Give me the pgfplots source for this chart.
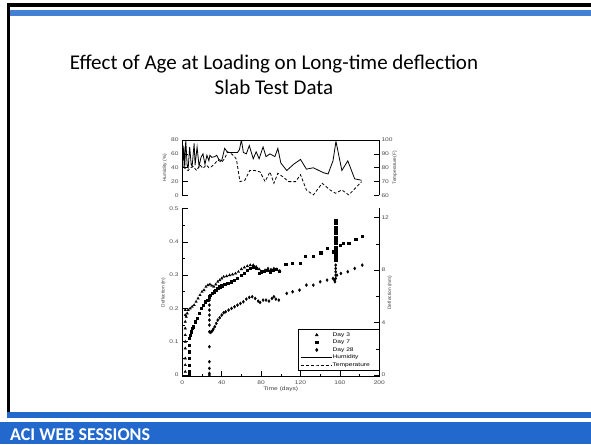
\documentclass[border=0pt]{standalone}
\usepackage{pgfplots}
\pgfplotsset{compat=1.18}
\usepackage{fontspec}
\setmainfont{Liberation Sans}
\newfontfamily\widefont[FakeStretch=1.25]{Liberation Sans}
\newfontfamily\titlefont{Carlito}
\definecolor{aciblue}{RGB}{35,105,205}
\newcommand\axfont{\widefont\fontsize{5.3}{6}\selectfont}
\newcommand\labfont{\fontsize{4.8}{5.5}\selectfont}
\pgfplotsset{
  slabstyle/.style={
    scale only axis, width=197pt,
    xmin=0, xmax=200,
    tick align=inside,
    major tick length=5.5pt, minor tick length=3pt,
    axis line style={line width=0.7pt},
    every tick/.style={black, line width=0.6pt},
    tick label style={font=\axfont, text=black!70, inner sep=3.5pt},
    /pgf/number format/assume math mode=true,
    clip=true,
  },
  leftlab/.style={ylabel style={at={(rel axis cs:0,0.5)}, anchor=center, yshift=#1, font=\labfont, text=black!75}},
  rightlab/.style={ylabel style={at={(rel axis cs:1,0.5)}, anchor=center, yshift=-#1, font=\labfont, text=black!75}},
  legend image code/.code={\draw[mark repeat=2,mark phase=2,#1] plot coordinates {(0pt,0pt) (15.5pt,0pt) (31pt,0pt)};},
}
\begin{document}
\begin{tikzpicture}
\path[use as bounding box] (0pt,0pt) rectangle (591pt,444pt);
\fill[white] (0pt,0pt) rectangle (591pt,444pt);
% slide decoration
\fill[black] (7pt,437pt) rectangle (591pt,441pt);
\fill[black] (7pt,32pt) rectangle (9.5pt,441pt);
\fill[aciblue!85] (9.5pt,428pt) rectangle (591pt,434pt);
\fill[aciblue] (7pt,26pt) rectangle (591pt,32pt);
\fill[aciblue] (0pt,0pt) rectangle (591pt,22pt);
\node[anchor=base west, text=white, font=\titlefont\bfseries\fontsize{18}{18}\selectfont, inner sep=0pt] at (10pt,4pt) {ACI WEB SESSIONS};
\node[align=center, font=\titlefont\fontsize{21}{25}\selectfont] at (274pt,369pt) {Effect of Age at Loading on Long-time deflection\\Slab Test Data};

% ---------- lower panel: deflection (in) ----------
\begin{axis}[slabstyle, leftlab=19pt,
  at={(182.3pt,67.3pt)}, anchor=south west, height=168.2pt,
  ymin=-0.005, ymax=0.5,
  axis x line*=bottom, axis y line*=left,
  xtick={0,40,80,120,160,200}, minor x tick num=1,
  ytick={0,0.1,0.2,0.3,0.4,0.5}, minor y tick num=1,
  yticklabels={0,0.1,0.2,0.3,0.4,0.5},
  xlabel={Time (days)}, ylabel={Deflection (in)},
  xlabel style={at={(rel axis cs:0.5,0)}, anchor=center, yshift=-12.6pt, font=\axfont, text=black!75},
  legend cell align=left,
  legend style={at={(rel axis cs:1,0.0357)}, anchor=south east, font=\axfont,
    draw=black, line width=0.7pt, inner xsep=2.3pt, inner ysep=2.75pt, row sep=2.3pt,
    nodes={inner sep=0pt, text height=4pt, text depth=1.2pt},
    /tikz/every even column/.append style={column sep=5pt}},
]
\addplot[only marks, mark=triangle*, mark size=1.4pt, black] coordinates {
(3,0.01)(3,0.03)(3,0.05)(3,0.08)(3,0.1)(3,0.12)(3,0.14)(3,0.16)(3,0.18)(3,0.195)
(4,0.175)(5,0.185)(6,0.195)(8,0.2)(10,0.205)(12,0.21)(14,0.22)(16,0.23)(18,0.24)(20,0.25)
(22,0.255)(24,0.265)(26,0.27)(28,0.272)(30,0.268)(32,0.265)(34,0.272)(36,0.28)(38,0.285)(40,0.29)
(42,0.295)(45,0.297)(48,0.3)(51,0.302)(54,0.305)(57,0.31)(60,0.318)(63,0.323)(66,0.327)(69,0.33)
(72,0.33)(75,0.325)(78,0.318)(81,0.31)(84,0.315)(87,0.32)(90,0.317)(93,0.32)(96,0.318)(99,0.313)
};
\addlegendentry{\makebox[44pt][l]{Day 3}}
\addplot[only marks, mark=square*, mark size=1.1pt, black] coordinates {
(7,0.0)(7,0.01)(7,0.03)(7,0.05)(7,0.07)(7,0.09)(7,0.11)
(8,0.12)(9,0.13)(10,0.14)(11,0.145)(13,0.16)(15,0.17)(17,0.185)(19,0.2)(21,0.21)(23,0.22)
(25,0.225)(27,0.235)(28,0.24)(30,0.245)(32,0.25)(34,0.255)(36,0.26)(38,0.265)(40,0.268)(43,0.272)
(46,0.275)(50,0.28)(53,0.285)(56,0.29)(60,0.3)(63,0.305)(66,0.315)(69,0.32)(72,0.325)(75,0.32)
(78,0.305)(80,0.31)(83,0.312)(86,0.315)(89,0.31)(92,0.315)(95,0.318)(98,0.312)
(105,0.333)(111.7,0.335)(119.5,0.335)(125,0.357)(133,0.357)(140.5,0.367)(147.5,0.38)(153,0.37)
(155.7,0.345)(155.7,0.355)(155.7,0.365)(155.7,0.375)(155.7,0.385)(155.7,0.395)(155.7,0.405)
(155.7,0.415)(155.7,0.425)(155.7,0.435)(155.7,0.445)(155.7,0.455)(155.7,0.465)
(160.7,0.39)(163.5,0.395)(169,0.397)(176,0.407)(182.7,0.417)
};
\addlegendentry{Day 7}
\addplot[only marks, mark=diamond*, mark size=1.5pt, black] coordinates {
(27.5,0)(27.5,0.005)(27.5,0.02)(27.5,0.04)(27.5,0.085)(27.5,0.13)(27.5,0.15)(27.5,0.165)
(27.5,0.18)(27.5,0.195)(27.5,0.21)(27.5,0.225)
(28.5,0.128)(29.5,0.13)(30.5,0.133)(31.5,0.138)(33,0.145)(34.5,0.155)(36,0.165)(38,0.172)
(40,0.18)(42,0.187)(44,0.19)(47,0.195)(50,0.2)(53,0.205)(56,0.21)(59,0.215)(62,0.22)(65,0.228)
(68,0.233)(71,0.235)(74,0.23)(77,0.222)(79,0.218)(82,0.225)(85,0.225)(88,0.222)(91,0.23)(93,0.235)
(95,0.228)(98,0.225)(106,0.245)(112,0.25)(119,0.255)(126,0.27)(133,0.27)(140,0.28)(147,0.285)
(153,0.29)(154.5,0.285)(155,0.28)(155.7,0.29)(155.7,0.3)(155.7,0.31)(155.7,0.32)(155.7,0.33)
(157,0.3)(161,0.305)(168,0.31)(175,0.32)(182.7,0.33)
};
\addlegendentry{Day 28}
\addlegendimage{black, line width=0.8pt}
\addlegendentry{Humidity}
\addlegendimage{black, line width=0.8pt, dash pattern=on 3pt off 2pt}
\addlegendentry{Temperature}
\end{axis}

% ---------- lower panel: right axis (mm) ----------
\begin{axis}[slabstyle, rightlab=10.5pt,
  at={(182.3pt,67.3pt)}, anchor=south west, height=168.2pt,
  ymin=-0.127, ymax=12.7,
  axis x line=none, axis y line*=right,
  ytick={0,4,8,12}, minor y tick num=1,
  yticklabel style={inner sep=2pt},
  ylabel={Deflection (mm)},
]
\addplot[draw=none] coordinates {(0,0)(200,12)};
\end{axis}

% ---------- upper panel: humidity ----------
\begin{axis}[slabstyle, leftlab=17.3pt,
  at={(182.3pt,248.5pt)}, anchor=south west, height=55.5pt,
  ymin=0, ymax=80,
  axis x line*=top, axis y line*=left, xtick=\empty,
  ytick={0,20,40,60,80},
  ylabel={Humidity (\%)},
]
\addplot[black, line width=0.8pt] coordinates {
(0.5,40)(1.5,72)(2.5,40)(3.5,80)(5,42)(6,40)(7.5,70)(9,45)(10,42)(12,75)(13,44)(15,70)(17,42)
(19,55)(21,60)(23,45)(25,58)(27,50)(28,58)(30,55)(33,56)(35,58)(37,52)(40,50)(43,68)(46,62)
(48,62)(52,62)(56,62)(58,66)(60,80)(62,62)(65,60)(68,72)(72,53)(75,63)(78,53)(82,70)(85,56)
(89,60)(94,56)(97,68)(100,47)(106,36)(113,45)(120,52)(126,38)(133,40)(143,33)(148,31)(153,50)
(156,78)(162,36)(168,50)(175,24)(182,22)
};
\end{axis}

% ---------- upper panel: temperature ----------
\begin{axis}[slabstyle, rightlab=15.7pt,
  at={(182.3pt,248.5pt)}, anchor=south west, height=55.5pt,
  ymin=60, ymax=100,
  axis x line=none, axis y line*=right,
  ytick={60,70,80,90,100},
  yticklabel style={inner sep=2pt},
  ylabel={Temperature(F)},
]
\addplot[black, line width=0.8pt, dash pattern=on 3pt off 2pt] coordinates {
(1,80.7)(3.5,79)(6,78)(8.5,80)(11,81)(14.5,78)(18,82)(21,79.5)(24.5,82)(27,80)(29.5,80.7)
(33,83)(36,85.5)(40,84)(43,86.7)(46,91.5)(50,90)(53,88)(55,86)(58.5,70)(63.5,71)(68.5,78)
(73.5,78)(79,77)(84,70)(89,77)(93,68.8)(97,76)(102,73.5)(108,70)(115,70)(120,75)(126,64)
(133,60.4)(142,68.8)(150,64)(155.5,61.6)(162,64)(169,60.4)(182,70)
};
\end{axis}
\end{tikzpicture}
\end{document}
